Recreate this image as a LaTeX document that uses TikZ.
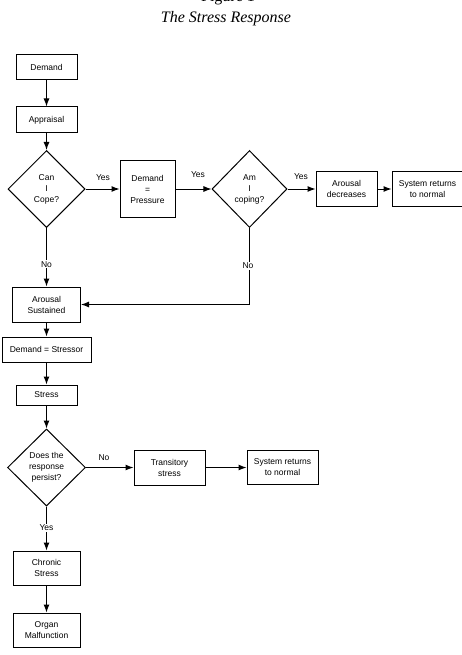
\documentclass[tikz,border=0pt]{standalone}
\usepackage{fontspec}
\setmainfont{Liberation Sans}
\newfontfamily\titlefont{Liberation Serif}
\usepackage{tikz}
\usetikzlibrary{arrows.meta}
\usetikzlibrary{shapes.geometric}
\tikzstyle{box} = [draw,line width=1pt,align=center,inner sep=1pt,font=\fontsize{8.5}{11}\selectfont]
\tikzstyle{decision} = [draw,shape=diamond,line width=1pt,align=center,inner sep=0pt,font=\fontsize{8.5}{11}\selectfont]
\tikzstyle{lbl} = [inner sep=1pt,font=\fontsize{8.5}{10}\selectfont]

\begin{document}
\begin{tikzpicture}[x=1pt,y=-1pt,>={Latex[length=8pt,width=6pt]},line width=1pt]
    \useasboundingbox (0,0) rectangle (461,655);

% Title
    \node[anchor=base,font=\titlefont\fontsize{16}{16}\selectfont] at (228,1.5) (fig) {Figure 1};
    \node[anchor=base,font=\titlefont\itshape\fontsize{16}{16}\selectfont] at (226,23) (title) {The Stress Response};

% Draw blocks
    \def\cx{46.5}
    \def\row{189}
    \node[box,minimum width=61pt,minimum height=25pt] at (\cx,67.5) (demand) {Demand};
    \node[box,minimum width=61pt,minimum height=26pt] at (\cx,120) (apprais) {Appraisal};
    \node[decision,minimum width=77pt,minimum height=77pt] at (\cx,\row) (cope) {Can\\I\\Cope?};
    \node[box,minimum width=55pt,minimum height=56pt] at (147.5,\row) (press) {Demand\\=\\Pressure};
    \node[decision,minimum width=75pt,minimum height=77pt] at (249.5,\row) (coping) {Am\\I\\coping?};
    \node[box,minimum width=61pt,minimum height=35pt] at (346.5,\row) (decr) {Arousal\\decreases};
    \node[box,minimum width=71pt,minimum height=34pt] at (427.5,\row) (normA) {System returns\\to normal};
    \node[box,minimum width=68pt,minimum height=35pt] at (\cx,304.5) (sust) {Arousal\\Sustained};
    \node[box,minimum width=89pt,minimum height=25pt] at (\cx,349.5) (stressor) {Demand = Stressor};
    \node[box,minimum width=61pt,minimum height=20pt] at (\cx,395) (stress) {Stress};
    \node[decision,minimum width=78pt,minimum height=77pt] at (\cx,467.5) (persist) {Does the\\response\\persist?};
    \node[box,minimum width=71pt,minimum height=35pt] at (169.5,467.5) (trans) {Transitory\\stress};
    \node[box,minimum width=71pt,minimum height=34pt] at (282.5,467.5) (normB) {System returns\\to normal};
    \node[box,minimum width=67pt,minimum height=34pt] at (\cx,568) (chronic) {Chronic\\Stress};
    \node[box,minimum width=67pt,minimum height=34pt] at (\cx,630) (organ) {Organ\\Malfunction};

    % join up
    \draw[->] (demand) -- (apprais);
    \draw[->] (apprais) -- (cope);
    \draw[->] (cope) -- (press);
    \draw[->] (press) -- (coping);
    \draw[->] (coping) -- (decr);
    \draw[->] (decr) -- (normA);
    \draw[->] (cope) -- node[lbl,fill=white,pos=0.62] (noA) {No} (sust);
    \draw[->] (coping.south) |- (sust.east);
    \draw[->] (sust) -- (stressor);
    \draw[->] (stressor) -- (stress);
    \draw[->] (stress) -- (persist);
    \draw[->] (persist) -- (trans);
    \draw[->] (trans) -- (normB);
    \draw[->] (persist) -- node[lbl,fill=white,pos=0.48] (yesD) {Yes} (chronic);
    \draw[->] (chronic) -- (organ);

    % labels
    \node[lbl] at (103,178) (yesA) {Yes};
    \node[lbl] at (198,175) (yesB) {Yes};
    \node[lbl] at (301,177) (yesC) {Yes};
    \node[lbl,fill=white] at (248,266) (noB) {No};
    \node[lbl] at (104,458) (noC) {No};

\end{tikzpicture}
\end{document}
